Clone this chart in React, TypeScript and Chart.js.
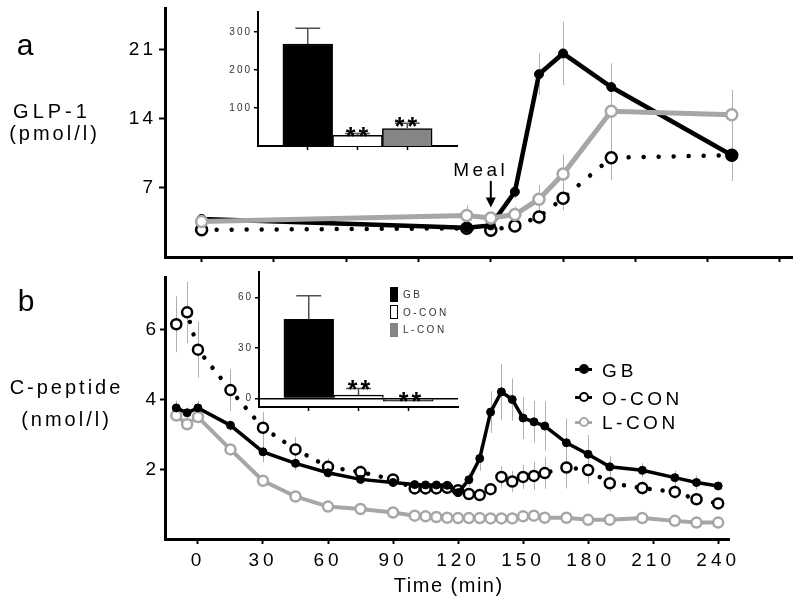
import React, { useEffect, useRef } from 'react';
import { Chart, registerables } from 'chart.js';

Chart.register(...registerables);

const FONT = "'Liberation Sans', Arial, sans-serif";
Chart.defaults.font.family = FONT;

// ---------- Panel a: GLP-1 (pmol/l) ----------
const glpTimes = [0, 110, 120, 130, 140, 150, 170, 220];
const glpGB = [3.85, 2.95, 3.2, 6.6, 18.5, 20.6, 17.2, 10.3];
const glpGBErr = [0.4, 0.4, 0.4, 0.7, 2.1, 3.2, 2.4, 2.6];
const glpOCON = [2.75, 2.9, 2.7, 3.15, 4.05, 5.95, 10.05, 10.3];
const glpOCONErr = [0.3, 0.3, 0.3, 0.5, 0.8, 1.2, 2.3, 1.5];
const glpLCON = [3.6, 4.2, 3.95, 4.3, 5.85, 8.4, 14.75, 14.4];
const glpLCONErr = [0.4, 1.0, 0.6, 0.8, 1.4, 2.0, 2.5, 2.5];
const glpYTicks = [7, 14, 21];
const mealTime = 120;
const mealArrowFrom = 7.7;
const mealArrowTo = 5.0;

// ---------- Panel b: C-peptide (nmol/l) ----------
const cpTimes = [-10, -5, 0, 15, 30, 45, 60, 75, 90, 100, 105, 110, 115, 120, 125, 130, 135, 140, 145, 150, 155, 160, 170, 180, 190, 205, 220, 230, 240];
const cpGB = [3.76, 3.62, 3.76, 3.26, 2.5, 2.17, 1.9, 1.71, 1.62, 1.56, 1.55, 1.55, 1.54, 1.33, 1.7, 2.31, 3.64, 4.22, 4.0, 3.47, 3.36, 3.24, 2.76, 2.43, 2.07, 1.97, 1.76, 1.62, 1.52];
const cpGBErr = [0.2, 0.15, 0.2, 0.15, 0.3, 0.2, 0.15, 0.15, 0.1, 0.1, 0.1, 0.1, 0.1, 0.1, 0.2, 0.35, 0.6, 0.8, 0.6, 0.6, 0.6, 0.7, 0.7, 0.55, 0.3, 0.2, 0.2, 0.2, 0.1];
const cpOCON = [6.16, 6.5, 5.43, 4.27, 3.19, 2.57, 2.07, 1.92, 1.71, 1.45, 1.45, 1.45, 1.47, 1.4, 1.29, 1.26, 1.43, 1.78, 1.65, 1.78, 1.81, 1.89, 2.05, 1.98, 1.6, 1.46, 1.35, 1.14, 1.02];
const cpOCONErr = [0.8, 0.88, 0.8, 0.6, 0.45, 0.35, 0.25, 0.2, 0.15, 0.1, 0.1, 0.1, 0.1, 0.1, 0.1, 0.1, 0.15, 0.3, 0.3, 0.35, 0.4, 0.45, 0.6, 0.4, 0.25, 0.2, 0.2, 0.15, 0.1];
const cpLCON = [3.54, 3.29, 3.5, 2.57, 1.67, 1.22, 0.93, 0.86, 0.76, 0.67, 0.65, 0.63, 0.61, 0.6, 0.6, 0.6, 0.59, 0.59, 0.59, 0.65, 0.67, 0.61, 0.61, 0.55, 0.55, 0.6, 0.52, 0.47, 0.47];
const cpLCONErr = [0.1, 0.1, 0.1, 0.1, 0.1, 0.1, 0.08, 0.08, 0.08, 0.05, 0.05, 0.05, 0.05, 0.05, 0.05, 0.05, 0.05, 0.05, 0.05, 0.08, 0.08, 0.05, 0.05, 0.05, 0.05, 0.05, 0.05, 0.05, 0.05];
const cpYTicks = [2, 4, 6];
const timeTicks = [0, 30, 60, 90, 120, 150, 180, 210, 240];

// ---------- Insets (incremental AUC) ----------
const aucGroups = ['GB', 'O-CON', 'L-CON'];
const aucPos = [1, 2, 3];
const glpAUC = [268, 28, 46];
const glpAUCErr = [41, 5, 14];
const glpAUCTicks = [100, 200, 300];
const cpAUC = [47, 2, -1.5];
const cpAUCErr = [14, 4, 0];
const cpAUCTicks = [0, 30, 60];

const BLACK = '#000000';
const GRAY = '#a6a6a6';
const BAR_FILLS = ['#000000', '#ffffff', '#858585'];
const ERR_COLOR = '#b0b0b0';

const pts = (xs: number[], ys: number[]) => xs.map((x, i) => ({ x, y: ys[i] }));

const setTicks = (values: number[]) => (s: any) => {
  s.ticks = values.map((value) => ({ value }));
};
const fixWidth = (w: number) => (s: any) => {
  s.width = w;
  s.paddingTop = 0; s.paddingBottom = 0; s.paddingLeft = 0; s.paddingRight = 0;
};
const fixHeight = (h: number) => (s: any) => {
  s.height = h;
  s.paddingTop = 0; s.paddingBottom = 0; s.paddingLeft = 0; s.paddingRight = 0;
};

const letterSpacingPlugin = {
  id: 'letterSpacing',
  beforeDraw(chart: any, _args: any, opts: any) {
    chart.ctx.letterSpacing = (opts && opts.value) || '0px';
  },
};

const errorBarsPlugin = {
  id: 'errorBars',
  beforeDatasetsDraw(chart: any) {
    const ctx = chart.ctx;
    chart.data.datasets.forEach((ds: any, i: number) => {
      if (!ds.errors) return;
      const meta = chart.getDatasetMeta(i);
      const ys = chart.scales[meta.yAxisID];
      ctx.save();
      ctx.strokeStyle = ds.errorColor || ERR_COLOR;
      ctx.lineWidth = 1;
      meta.data.forEach((el: any, j: number) => {
        const e = ds.errors[j];
        if (!e) return;
        const v = ds.data[j].y;
        const x = Math.round(el.x) + 0.5;
        ctx.beginPath();
        ctx.moveTo(x, ys.getPixelForValue(v + e));
        ctx.lineTo(x, ys.getPixelForValue(v - e));
        ctx.stroke();
      });
      ctx.restore();
    });
  },
};

const barErrorsPlugin = {
  id: 'barErrors',
  afterDatasetsDraw(chart: any) {
    const ctx = chart.ctx;
    const ds: any = chart.data.datasets[0];
    const meta = chart.getDatasetMeta(0);
    const ys = chart.scales.y;
    ctx.save();
    ctx.strokeStyle = '#505050';
    ctx.lineWidth = 1.5;
    meta.data.forEach((el: any, j: number) => {
      const e = ds.errors[j];
      if (!e) return;
      const v = ds.data[j].y;
      const top = ys.getPixelForValue(v + e);
      const base = ys.getPixelForValue(v);
      const half = (el.width * 0.5) / 2;
      ctx.beginPath();
      ctx.moveTo(el.x, base);
      ctx.lineTo(el.x, top);
      ctx.moveTo(el.x - half, top);
      ctx.lineTo(el.x + half, top);
      ctx.stroke();
    });
    ctx.restore();
  },
};

const mealArrowPlugin = {
  id: 'mealArrow',
  afterDatasetsDraw(chart: any) {
    const ctx = chart.ctx;
    const x = chart.scales.x.getPixelForValue(mealTime);
    const y0 = chart.scales.y.getPixelForValue(mealArrowFrom);
    const y1 = chart.scales.y.getPixelForValue(mealArrowTo);
    ctx.save();
    ctx.strokeStyle = BLACK;
    ctx.fillStyle = BLACK;
    ctx.lineWidth = 2;
    ctx.beginPath();
    ctx.moveTo(x, y0);
    ctx.lineTo(x, y1 - 8);
    ctx.stroke();
    ctx.beginPath();
    ctx.moveTo(x - 5, y1 - 10);
    ctx.lineTo(x + 5, y1 - 10);
    ctx.lineTo(x, y1);
    ctx.closePath();
    ctx.fill();
    ctx.restore();
  },
};

const axisBorder = (w: number) => ({ display: true, color: BLACK, width: w });

function lineDatasets(
  times: number[],
  gb: number[], gbErr: number[],
  oc: number[], ocErr: number[],
  lc: number[], lcErr: number[],
  big: boolean,
  orders: number[],
) {
  const lw = big ? 4.5 : 3.5;
  return [
    {
      label: 'GB', data: pts(times, gb), errors: gbErr,
      borderColor: BLACK, borderWidth: lw, pointRadius: big ? 4.5 : 4,
      pointBackgroundColor: BLACK, pointBorderColor: BLACK, pointBorderWidth: 1,
      order: orders[0], tension: 0,
    },
    {
      label: 'O-CON', data: pts(times, oc), errors: ocErr,
      borderColor: BLACK, borderWidth: 4.5, borderDash: [0.01, big ? 15 : 13], borderCapStyle: 'round',
      pointRadius: big ? 5.5 : 5, pointBackgroundColor: '#ffffff', pointBorderColor: BLACK, pointBorderWidth: 2.5,
      order: orders[1], tension: 0,
    },
    {
      label: 'L-CON', data: pts(times, lc), errors: lcErr,
      borderColor: GRAY, borderWidth: big ? 5 : 4, pointRadius: big ? 5.5 : 5,
      pointBackgroundColor: '#ffffff', pointBorderColor: GRAY, pointBorderWidth: 2.5,
      order: orders[2], tension: 0,
    },
  ];
}

const makePanelA = () => ({
  type: 'line',
  data: {
    datasets: lineDatasets(glpTimes, glpGB, glpGBErr, glpOCON, glpOCONErr, glpLCON, glpLCONErr, true, [1, 2, 0]),
  },
  options: {
    responsive: false, maintainAspectRatio: false, animation: false,
    layout: { padding: { left: 0, right: 8, top: 5, bottom: 0 } },
    plugins: { legend: { display: false }, tooltip: { enabled: false }, letterSpacing: { value: '3px' } },
    scales: {
      x: {
        type: 'linear', min: -15.2, max: 245,
        afterBuildTicks: setTicks(timeTicks), afterFit: fixHeight(18),
        ticks: { display: false },
        grid: { drawOnChartArea: false, drawTicks: true, tickLength: 5, tickWidth: 2, tickColor: BLACK },
        border: axisBorder(3),
      },
      y: {
        type: 'linear', min: 0, max: 25.2,
        afterBuildTicks: setTicks(glpYTicks), afterFit: fixWidth(165),
        ticks: { color: BLACK, font: { family: FONT, size: 19 }, padding: 3 },
        grid: { drawOnChartArea: false, drawTicks: true, tickLength: 6, tickWidth: 2, tickColor: BLACK },
        border: axisBorder(3),
      },
    },
  },
  plugins: [letterSpacingPlugin, errorBarsPlugin, mealArrowPlugin],
});

const makePanelB = () => ({
  type: 'line',
  data: {
    datasets: lineDatasets(cpTimes, cpGB, cpGBErr, cpOCON, cpOCONErr, cpLCON, cpLCONErr, false, [0, 1, 2]),
  },
  options: {
    responsive: false, maintainAspectRatio: false, animation: false,
    layout: { padding: { left: 0, right: 71, top: 5, bottom: 0 } },
    plugins: { legend: { display: false }, tooltip: { enabled: false }, letterSpacing: { value: '4px' } },
    scales: {
      x: {
        type: 'linear', min: -15.2, max: 245,
        afterBuildTicks: setTicks(timeTicks), afterFit: fixHeight(64),
        ticks: { color: BLACK, font: { family: FONT, size: 19 }, padding: 5, maxRotation: 0 },
        grid: { drawOnChartArea: false, drawTicks: true, tickLength: 5, tickWidth: 2, tickColor: BLACK },
        border: axisBorder(3),
      },
      y: {
        type: 'linear', min: 0, max: 7.5,
        afterBuildTicks: setTicks(cpYTicks), afterFit: fixWidth(165),
        ticks: { color: BLACK, font: { family: FONT, size: 19 }, padding: 0 },
        grid: { drawOnChartArea: false, drawTicks: true, tickLength: 5, tickWidth: 2, tickColor: BLACK },
        border: axisBorder(3),
      },
    },
  },
  plugins: [letterSpacingPlugin, errorBarsPlugin],
});

function makeInset(values: number[], errs: number[], yMin: number, yMax: number, yTicks: number[], yWidth: number, xHeight: number, padRight: number, zeroLine: boolean) {
  return () => ({
    type: 'bar',
    data: {
      datasets: [
        {
          label: 'AUC', data: pts(aucPos, values), errors: errs,
          backgroundColor: BAR_FILLS, borderColor: BLACK, borderWidth: 1.5,
          barPercentage: 1, categoryPercentage: 1,
        },
      ],
    },
    options: {
      responsive: false, maintainAspectRatio: false, animation: false,
      layout: { padding: { left: 0, right: padRight, top: 7, bottom: 0 } },
      plugins: { legend: { display: false }, tooltip: { enabled: false }, letterSpacing: { value: '2px' } },
      scales: {
        x: {
          type: 'linear', min: 0, max: 4, offset: false,
          afterBuildTicks: setTicks(aucPos), afterFit: fixHeight(xHeight),
          ticks: { display: false },
          grid: { offset: false, drawOnChartArea: false, drawTicks: true, tickLength: 4, tickWidth: 1.5, tickColor: BLACK },
          border: axisBorder(2),
        },
        y: {
          type: 'linear', min: yMin, max: yMax,
          afterBuildTicks: setTicks(yTicks), afterFit: fixWidth(yWidth),
          ticks: { color: '#333333', font: { family: FONT, size: 10 }, padding: 2 },
          grid: {
            drawOnChartArea: zeroLine,
            color: (c: any) => (c.tick && c.tick.value === 0 ? BLACK : 'rgba(0,0,0,0)'),
            lineWidth: 1.5,
            drawTicks: true, tickLength: 4, tickWidth: 1.5, tickColor: BLACK,
          },
          border: axisBorder(2),
        },
      },
    },
    plugins: [letterSpacingPlugin, barErrorsPlugin],
  });
}

const makeInsetA = makeInset(glpAUC, glpAUCErr, 0, 352, glpAUCTicks, 53, 9, 13, false);
const makeInsetB = makeInset(cpAUC, cpAUCErr, -5, 75, cpAUCTicks, 54, 8, 12, true);

function ChartBox({ make, left, top, width, height }: any) {
  const ref = useRef<HTMLCanvasElement | null>(null);
  useEffect(() => {
    if (!ref.current) return;
    const chart = new Chart(ref.current, make() as any);
    return () => chart.destroy();
  }, [make]);
  return (
    <canvas
      ref={ref}
      width={width}
      height={height}
      style={{ position: 'absolute', left, top, width, height, display: 'block' }}
    />
  );
}

function T({ x, y, size, ls = 0, weight = 'normal', color = BLACK, children }: any) {
  return (
    <div
      style={{
        position: 'absolute', left: x, top: y, transform: 'translate(-50%, -50%)',
        fontSize: size, letterSpacing: ls, paddingLeft: ls, lineHeight: 1,
        whiteSpace: 'nowrap', fontFamily: FONT, color, fontWeight: weight,
      }}
    >
      {children}
    </div>
  );
}

function L({ x, y, size, ls = 0, color = BLACK, children }: any) {
  return (
    <div
      style={{
        position: 'absolute', left: x, top: y, transform: 'translateY(-50%)',
        fontSize: size, letterSpacing: ls, lineHeight: 1,
        whiteSpace: 'nowrap', fontFamily: FONT, color,
      }}
    >
      {children}
    </div>
  );
}

function LegendMarker({ y, color, filled }: any) {
  return (
    <>
      <div style={{ position: 'absolute', left: 575, top: y - 1.5, width: 17, height: 3, background: color }} />
      <div
        style={{
          position: 'absolute', left: 583.5 - 5, top: y - 5, width: 10, height: 10, boxSizing: 'border-box',
          borderRadius: '50%', border: `2.5px solid ${color}`, background: filled ? color : '#ffffff',
        }}
      />
    </>
  );
}

export default function App() {
  return (
    <div style={{ position: 'absolute', left: 0, top: 0, width: 800, height: 603, background: '#ffffff', overflow: 'hidden', fontFamily: FONT }}>
      <ChartBox make={makePanelA} left={0} top={0} width={800} height={275} />
      <ChartBox make={makePanelB} left={0} top={270} width={800} height={333} />
      <ChartBox make={makeInsetA} left={205} top={5} width={265} height={150} />
      <ChartBox make={makeInsetB} left={205} top={265} width={265} height={150} />

      {/* panel labels and axis titles */}
      <T x={25} y={45} size={30}>a</T>
      <T x={26} y={301} size={30}>b</T>
      <T x={50} y={111} size={20} ls={4}>GLP-1</T>
      <T x={53} y={133} size={20} ls={3}>(pmol/l)</T>
      <T x={65} y={387} size={20} ls={3}>C-peptide</T>
      <T x={65} y={419} size={20} ls={3}>(nmol/l)</T>
      <T x={448} y={585} size={20} ls={1.5}>Time (min)</T>
      <T x={479} y={169} size={19} ls={3.5}>Meal</T>

      {/* significance marks */}
      <T x={357} y={136} size={25} ls={3} weight="bold">**</T>
      <T x={406} y={126} size={25} ls={3} weight="bold">**</T>
      <T x={359} y={389} size={25} ls={3} weight="bold">**</T>
      <T x={410} y={401} size={25} ls={3} weight="bold">**</T>

      {/* inset b legend */}
      <div style={{ position: 'absolute', left: 390, top: 287, width: 8, height: 15, background: BAR_FILLS[0] }} />
      <div style={{ position: 'absolute', left: 390, top: 305, width: 8, height: 14, boxSizing: 'border-box', border: '1.5px solid #000', background: BAR_FILLS[1] }} />
      <div style={{ position: 'absolute', left: 390, top: 323, width: 8, height: 14, background: BAR_FILLS[2] }} />
      <L x={403} y={295} size={10} ls={2.5} color="#333">{aucGroups[0]}</L>
      <L x={403} y={312.5} size={10} ls={2.5} color="#333">{aucGroups[1]}</L>
      <L x={403} y={330} size={10} ls={2.5} color="#333">{aucGroups[2]}</L>

      {/* main legend (panel b) */}
      <LegendMarker y={369} color={BLACK} filled />
      <LegendMarker y={397} color={BLACK} filled={false} />
      <LegendMarker y={422} color={GRAY} filled={false} />
      <L x={602} y={370} size={19} ls={4}>GB</L>
      <L x={602} y={398} size={19} ls={3.5}>O-CON</L>
      <L x={602} y={422} size={19} ls={3.5}>L-CON</L>
    </div>
  );
}
